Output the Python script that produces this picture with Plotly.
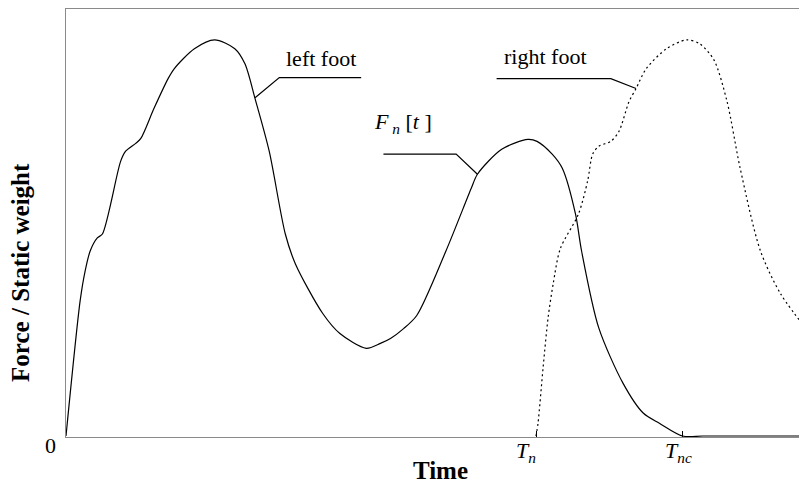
"""Ground reaction force of left and right foot during walking"""

import plotly.graph_objects as go

# Time in % of the shown window, force normalised by static weight
left_t = [0, 1.89, 2.56, 3.24, 4.18, 4.86, 7.29, 7.96, 9.31, 9.99, 11.74, 13.63,
          14.44, 17.14, 19.84, 22.54, 23.89, 25.24, 27.13, 29.28, 30.63, 34.28,
          36.57, 40.08, 41.97, 43.32, 45.07, 46.83, 50.74, 54.12, 54.93, 58.17,
          61.67, 62.89, 64.91, 66.26, 68.02, 68.83, 71.12, 74.36, 77.06, 79.22,
          82.32, 85, 90, 95, 100]
left_f = [0, 0.412, 0.503, 0.564, 0.603, 0.615, 0.836, 0.867, 0.891, 0.906, 0.997,
          1.088, 1.118, 1.179, 1.206, 1.179, 1.133, 1.027, 0.867, 0.615, 0.524,
          0.373, 0.312, 0.267, 0.282, 0.297, 0.327, 0.367, 0.564, 0.755, 0.797,
          0.873, 0.903, 0.897, 0.858, 0.815, 0.676, 0.564, 0.330, 0.161, 0.070,
          0.039, 0, 0, 0, 0, 0]

right_t = [62.75, 63.02, 63.70, 64.37, 65.05, 65.99, 68.42, 69.64, 70.31, 71.12,
           72.74, 73.82, 75.17, 76.11, 77.46, 80.16, 82.86, 84.62, 86.50, 88.26,
           90.01, 92.71, 95.41, 99.73]
right_f = [0, 0.039, 0.209, 0.361, 0.464, 0.570, 0.676, 0.776, 0.858, 0.882,
           0.897, 0.927, 1.018, 1.058, 1.118, 1.179, 1.206, 1.194, 1.145, 1.018,
           0.815, 0.564, 0.433, 0.300]

# contact instants on the time axis
tick_vals = [62.75, 82.32]
tick_text = ["<i>T</i><sub><i>n</i></sub>", "<i>T</i><sub><i>nc</i></sub>"]

FONT = "Liberation Serif, Times New Roman, serif"
AXIS_GRAY = "#8a8a8a"

fig = go.Figure()

fig.add_trace(go.Scatter(
    x=left_t, y=left_f, mode="lines", name="left foot",
    line=dict(color="black", width=1.2, shape="spline", smoothing=0.8),
))
fig.add_trace(go.Scatter(
    x=right_t, y=right_f, mode="lines", name="right foot",
    line=dict(color="black", width=1.2, dash="2px,3px", shape="spline", smoothing=0.8),
))

# leader lines from the labels to the curves
leaders = [
    [(39.41, 1.091), (28.48, 1.091), (25.24, 1.030)],
    [(57.49, 1.088), (72.74, 1.088), (76.11, 1.058)],
    [(42.38, 0.858), (52.09, 0.858), (54.93, 0.797)],
]
for pts in leaders:
    path = "M " + " L ".join(f"{x},{y}" for x, y in pts)
    fig.add_shape(type="path", path=path, xref="x", yref="y",
                  line=dict(color="black", width=1.2))

labels = [
    (33.99, 1.148, "left foot"),
    (63.97, 1.155, "right foot"),
    (45.0, 0.952, "<i>F</i><sub><i> n</i></sub> [<i>t</i> ]"),
]
for x, y, txt in labels:
    fig.add_annotation(x=x, y=y, text=txt, showarrow=False,
                       font=dict(family=FONT, size=22, color="black"))

# time-axis labels, set slightly left of their ticks as in the original
for val, txt, shift in zip(tick_vals, tick_text, [-10, -4]):
    fig.add_annotation(x=val, y=0, text=txt, showarrow=False, yanchor="top",
                       xshift=shift, yshift=0,
                       font=dict(family=FONT, size=22, color="black"))

fig.add_annotation(x=0, y=0, text="0", showarrow=False, xanchor="right",
                   yanchor="top", xshift=-8, yshift=5,
                   font=dict(family=FONT, size=22, color="black"))

fig.add_annotation(x=-0.0605, xref="paper", y=0.385, yref="paper",
                   xanchor="center", yanchor="middle",
                   text="Force / Static weight", textangle=-90, showarrow=False,
                   font=dict(family=FONT, size=25, color="black", weight="bold"))

# the page body adds an 8px offset, so margins are trimmed by that much
fig.update_layout(
    width=807, height=492,
    margin=dict(l=58, r=0, t=1, b=63),
    plot_bgcolor="white", paper_bgcolor="white",
    showlegend=False,
)
fig.update_xaxes(
    range=[0, 100], showgrid=False, zeroline=False,
    showline=True, linecolor=AXIS_GRAY, linewidth=1, mirror=True,
    layer="below traces",
    tickvals=tick_vals, ticks="inside", ticklen=6, tickcolor="black",
    showticklabels=False,
    title=dict(text="Time", standoff=24,
               font=dict(family=FONT, size=25, color="black", weight="bold")),
)
fig.update_yaxes(
    range=[-0.003, 1.3], showgrid=False, zeroline=False,
    showline=True, linecolor=AXIS_GRAY, linewidth=1,
    layer="below traces",
    showticklabels=False, ticks="",
)

fig.write_html("out.html")
